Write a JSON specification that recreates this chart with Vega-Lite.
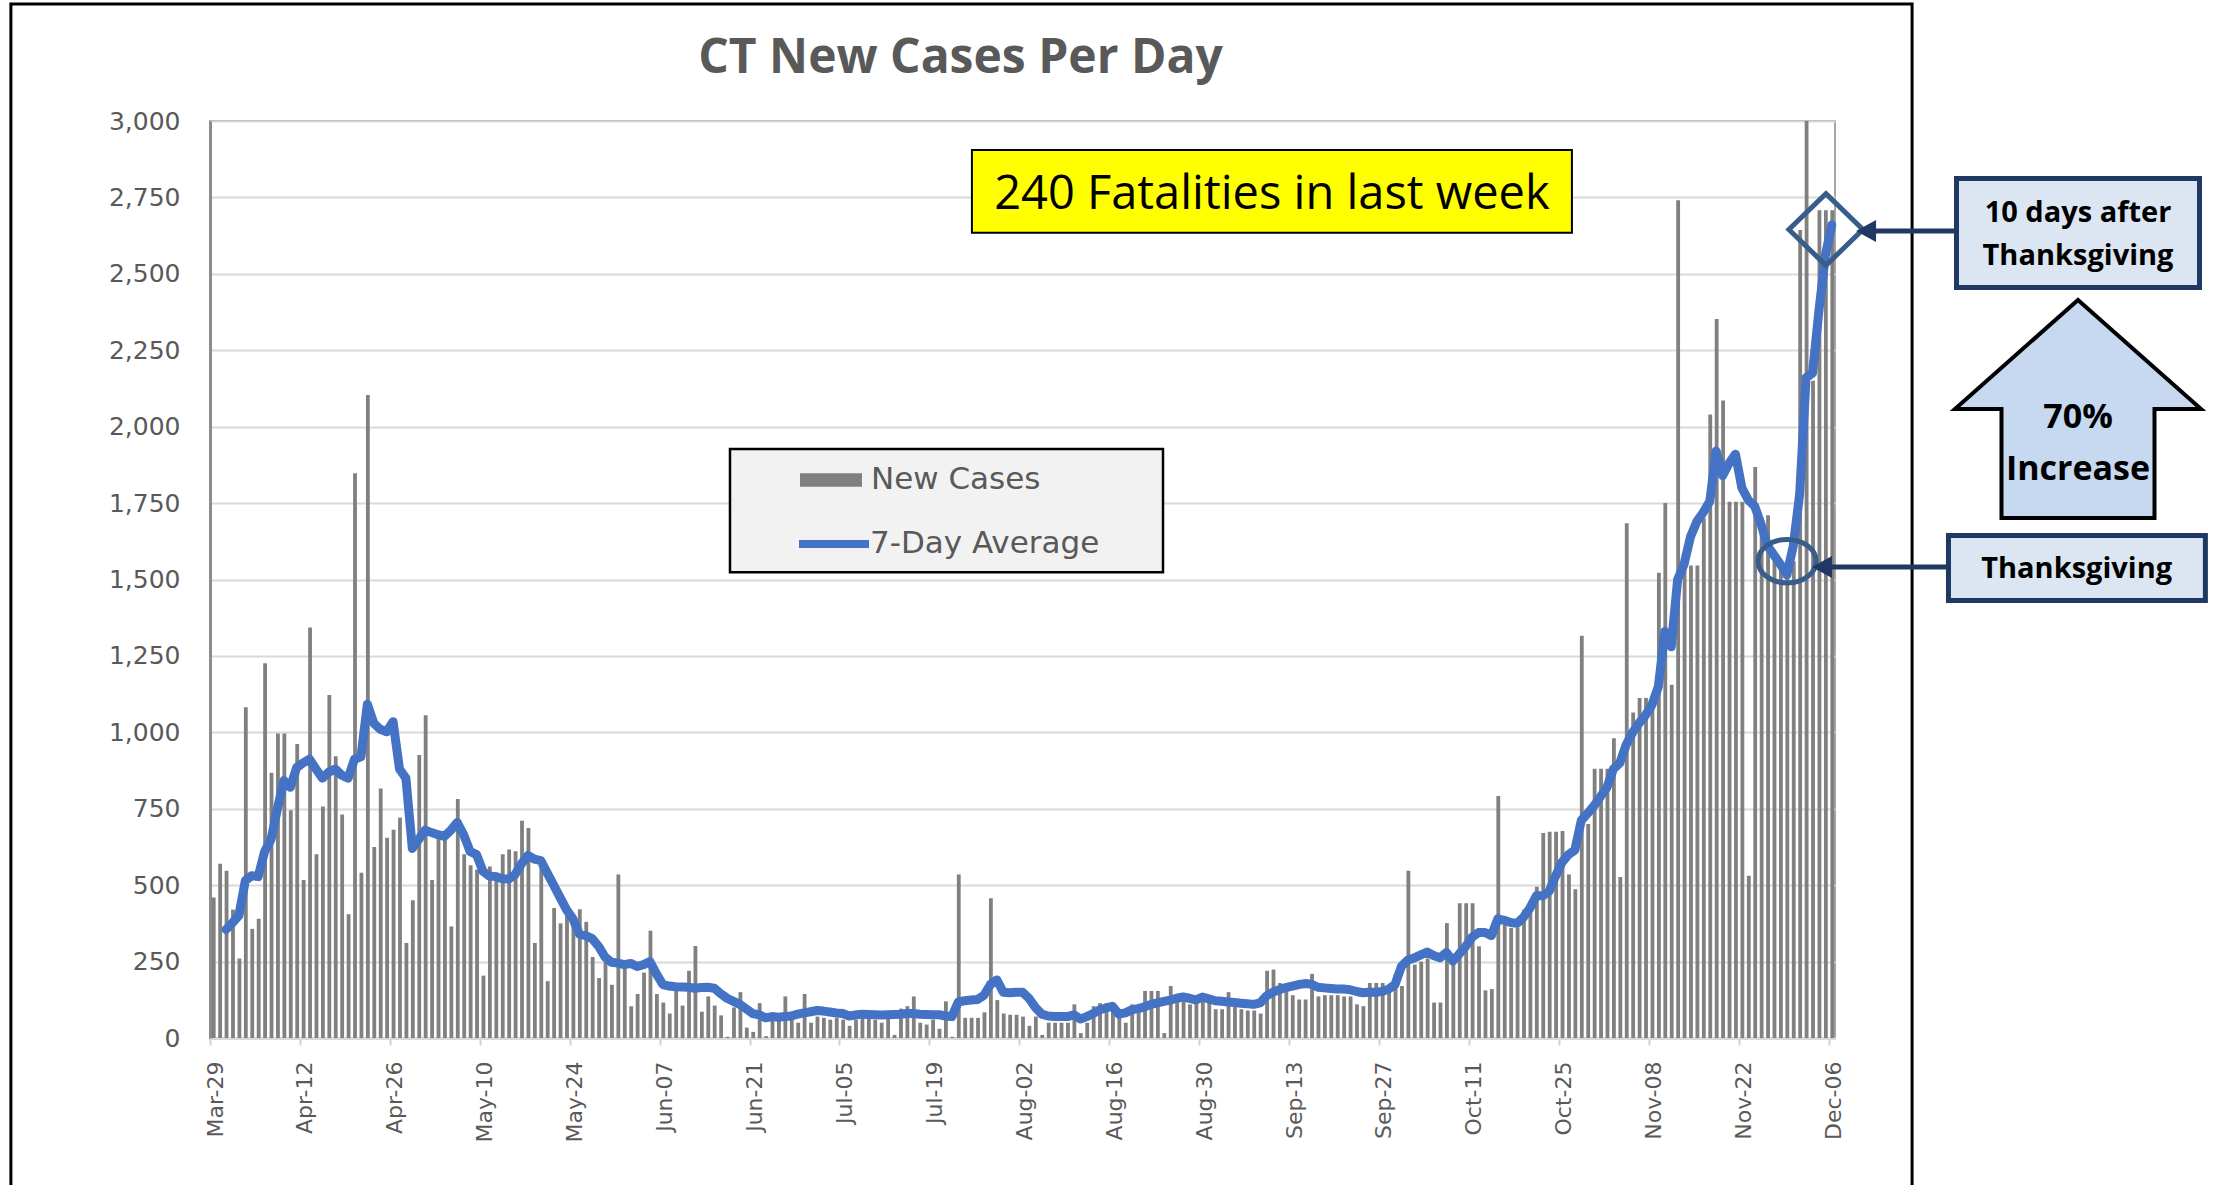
{
"$schema":"https://vega.github.io/schema/vega-lite/v6.json",
"width":1625,"height":917,
"autosize":{"type":"none"},
"padding":{"left":210,"top":121,"right":380,"bottom":147},
"background":"white",
"title":{"text":"CT New Cases Per Day","font":"Open Sans","fontSize":48,"fontWeight":"bold","color":"#595959","anchor":"middle","frame":"group","baseline":"alphabetic","offset":0,"dy":119,"dx":-62},
"config":{"view":{"stroke":"#a6a6a6","strokeWidth":2}},
"datasets":{"ct":[
{"date":"2020-03-29","cases":460},{"date":"2020-03-30","cases":570},{"date":"2020-03-31","cases":547,"avg":355},
{"date":"2020-04-01","cases":420,"avg":377},{"date":"2020-04-02","cases":260,"avg":401},{"date":"2020-04-03","cases":1082,"avg":515},{"date":"2020-04-04","cases":357,"avg":531},{"date":"2020-04-05","cases":390,"avg":528},{"date":"2020-04-06","cases":1226,"avg":610},{"date":"2020-04-07","cases":868,"avg":650},{"date":"2020-04-08","cases":996,"avg":750},{"date":"2020-04-09","cases":996,"avg":842},{"date":"2020-04-10","cases":745,"avg":820},{"date":"2020-04-11","cases":962,"avg":885},{"date":"2020-04-12","cases":517,"avg":900},{"date":"2020-04-13","cases":1343,"avg":912},{"date":"2020-04-14","cases":601,"avg":880},{"date":"2020-04-15","cases":757,"avg":850},{"date":"2020-04-16","cases":1122,"avg":870},{"date":"2020-04-17","cases":922,"avg":880},{"date":"2020-04-18","cases":731,"avg":860},{"date":"2020-04-19","cases":405,"avg":850},{"date":"2020-04-20","cases":1848,"avg":912},{"date":"2020-04-21","cases":541,"avg":920},{"date":"2020-04-22","cases":2104,"avg":1092},{"date":"2020-04-23","cases":625,"avg":1030},{"date":"2020-04-24","cases":816,"avg":1010},{"date":"2020-04-25","cases":655,"avg":1002},{"date":"2020-04-26","cases":681,"avg":1035},{"date":"2020-04-27","cases":721,"avg":880},{"date":"2020-04-28","cases":311,"avg":850},{"date":"2020-04-29","cases":451,"avg":620},{"date":"2020-04-30","cases":926,"avg":650},
{"date":"2020-05-01","cases":1056,"avg":680},{"date":"2020-05-02","cases":517,"avg":672},{"date":"2020-05-03","cases":661,"avg":665},{"date":"2020-05-04","cases":651,"avg":660},{"date":"2020-05-05","cases":365,"avg":680},{"date":"2020-05-06","cases":782,"avg":705},{"date":"2020-05-07","cases":601,"avg":665},{"date":"2020-05-08","cases":565,"avg":610},{"date":"2020-05-09","cases":551,"avg":600},{"date":"2020-05-10","cases":204,"avg":545},{"date":"2020-05-11","cases":561,"avg":530},{"date":"2020-05-12","cases":530,"avg":528},{"date":"2020-05-13","cases":601,"avg":521},{"date":"2020-05-14","cases":617,"avg":520},{"date":"2020-05-15","cases":611,"avg":535},{"date":"2020-05-16","cases":711,"avg":570},{"date":"2020-05-17","cases":687,"avg":597},{"date":"2020-05-18","cases":311,"avg":585},{"date":"2020-05-19","cases":561,"avg":580},{"date":"2020-05-20","cases":186,"avg":540},{"date":"2020-05-21","cases":425,"avg":500},{"date":"2020-05-22","cases":375,"avg":460},{"date":"2020-05-23","cases":401,"avg":420},{"date":"2020-05-24","cases":381,"avg":390},{"date":"2020-05-25","cases":421,"avg":340},{"date":"2020-05-26","cases":380,"avg":335},{"date":"2020-05-27","cases":265,"avg":325},{"date":"2020-05-28","cases":196,"avg":300},{"date":"2020-05-29","cases":250,"avg":265},{"date":"2020-05-30","cases":174,"avg":248},{"date":"2020-05-31","cases":535,"avg":245},
{"date":"2020-06-01","cases":230,"avg":240},{"date":"2020-06-02","cases":104,"avg":244},{"date":"2020-06-03","cases":144,"avg":234},{"date":"2020-06-04","cases":214,"avg":240},{"date":"2020-06-05","cases":351,"avg":250},{"date":"2020-06-06","cases":144,"avg":210},{"date":"2020-06-07","cases":116,"avg":175},{"date":"2020-06-08","cases":80,"avg":170},{"date":"2020-06-09","cases":160,"avg":168},{"date":"2020-06-10","cases":106,"avg":167},{"date":"2020-06-11","cases":220,"avg":166},{"date":"2020-06-12","cases":301,"avg":163},{"date":"2020-06-13","cases":86,"avg":165},{"date":"2020-06-14","cases":136,"avg":166},{"date":"2020-06-15","cases":106,"avg":163},{"date":"2020-06-16","cases":74,"avg":145},{"date":"2020-06-17","cases":4,"avg":130},{"date":"2020-06-18","cases":100,"avg":120},{"date":"2020-06-19","cases":150,"avg":110},{"date":"2020-06-20","cases":34,"avg":95},{"date":"2020-06-21","cases":20,"avg":80},{"date":"2020-06-22","cases":114,"avg":76},{"date":"2020-06-23","cases":6,"avg":66},{"date":"2020-06-24","cases":70,"avg":70},{"date":"2020-06-25","cases":70,"avg":68},{"date":"2020-06-26","cases":136,"avg":70},{"date":"2020-06-27","cases":86,"avg":72},{"date":"2020-06-28","cases":50,"avg":78},{"date":"2020-06-29","cases":144,"avg":82},{"date":"2020-06-30","cases":50,"avg":86},
{"date":"2020-07-01","cases":70,"avg":90},{"date":"2020-07-02","cases":66,"avg":88},{"date":"2020-07-03","cases":60,"avg":85},{"date":"2020-07-04","cases":66,"avg":82},{"date":"2020-07-05","cases":60,"avg":80},{"date":"2020-07-06","cases":40,"avg":72},{"date":"2020-07-07","cases":60,"avg":75},{"date":"2020-07-08","cases":86,"avg":78},{"date":"2020-07-09","cases":66,"avg":77},{"date":"2020-07-10","cases":60,"avg":76},{"date":"2020-07-11","cases":50,"avg":75},{"date":"2020-07-12","cases":66,"avg":76},{"date":"2020-07-13","cases":10,"avg":77},{"date":"2020-07-14","cases":96,"avg":78},{"date":"2020-07-15","cases":104,"avg":80},{"date":"2020-07-16","cases":136,"avg":80},{"date":"2020-07-17","cases":50,"avg":78},{"date":"2020-07-18","cases":44,"avg":77},{"date":"2020-07-19","cases":60,"avg":76},{"date":"2020-07-20","cases":30,"avg":76},{"date":"2020-07-21","cases":120,"avg":72},{"date":"2020-07-22","cases":4,"avg":70},{"date":"2020-07-23","cases":535,"avg":118},{"date":"2020-07-24","cases":66,"avg":122},{"date":"2020-07-25","cases":66,"avg":124},{"date":"2020-07-26","cases":66,"avg":126},{"date":"2020-07-27","cases":84,"avg":140},{"date":"2020-07-28","cases":457,"avg":175},{"date":"2020-07-29","cases":124,"avg":190},{"date":"2020-07-30","cases":80,"avg":150},{"date":"2020-07-31","cases":76,"avg":148},
{"date":"2020-08-01","cases":76,"avg":150},{"date":"2020-08-02","cases":70,"avg":150},{"date":"2020-08-03","cases":40,"avg":130},{"date":"2020-08-04","cases":70,"avg":100},{"date":"2020-08-05","cases":10,"avg":78},{"date":"2020-08-06","cases":50,"avg":72},{"date":"2020-08-07","cases":50,"avg":70},{"date":"2020-08-08","cases":50,"avg":70},{"date":"2020-08-09","cases":50,"avg":70},{"date":"2020-08-10","cases":110,"avg":76},{"date":"2020-08-11","cases":16,"avg":62},{"date":"2020-08-12","cases":50,"avg":70},{"date":"2020-08-13","cases":104,"avg":80},{"date":"2020-08-14","cases":114,"avg":92},{"date":"2020-08-15","cases":114,"avg":98},{"date":"2020-08-16","cases":110,"avg":104},{"date":"2020-08-17","cases":86,"avg":78},{"date":"2020-08-18","cases":50,"avg":82},{"date":"2020-08-19","cases":110,"avg":92},{"date":"2020-08-20","cases":100,"avg":96},{"date":"2020-08-21","cases":154,"avg":102},{"date":"2020-08-22","cases":154,"avg":110},{"date":"2020-08-23","cases":154,"avg":115},{"date":"2020-08-24","cases":16,"avg":120},{"date":"2020-08-25","cases":170,"avg":124},{"date":"2020-08-26","cases":120,"avg":130},{"date":"2020-08-27","cases":120,"avg":134},{"date":"2020-08-28","cases":110,"avg":130},{"date":"2020-08-29","cases":120,"avg":125},{"date":"2020-08-30","cases":120,"avg":134},{"date":"2020-08-31","cases":126,"avg":128},
{"date":"2020-09-01","cases":94,"avg":122},{"date":"2020-09-02","cases":94,"avg":120},{"date":"2020-09-03","cases":150,"avg":118},{"date":"2020-09-04","cases":120,"avg":116},{"date":"2020-09-05","cases":94,"avg":114},{"date":"2020-09-06","cases":90,"avg":112},{"date":"2020-09-07","cases":90,"avg":110},{"date":"2020-09-08","cases":80,"avg":115},{"date":"2020-09-09","cases":220,"avg":138},{"date":"2020-09-10","cases":224,"avg":150},{"date":"2020-09-11","cases":180,"avg":158},{"date":"2020-09-12","cases":176,"avg":165},{"date":"2020-09-13","cases":140,"avg":170},{"date":"2020-09-14","cases":126,"avg":175},{"date":"2020-09-15","cases":126,"avg":178},{"date":"2020-09-16","cases":210,"avg":176},{"date":"2020-09-17","cases":136,"avg":166},{"date":"2020-09-18","cases":140,"avg":164},{"date":"2020-09-19","cases":140,"avg":162},{"date":"2020-09-20","cases":140,"avg":160},{"date":"2020-09-21","cases":136,"avg":160},{"date":"2020-09-22","cases":136,"avg":158},{"date":"2020-09-23","cases":110,"avg":152},{"date":"2020-09-24","cases":104,"avg":148},{"date":"2020-09-25","cases":180,"avg":150},{"date":"2020-09-26","cases":180,"avg":150},{"date":"2020-09-27","cases":180,"avg":152},{"date":"2020-09-28","cases":160,"avg":160},{"date":"2020-09-29","cases":210,"avg":175},{"date":"2020-09-30","cases":170,"avg":235},
{"date":"2020-10-01","cases":547,"avg":255},{"date":"2020-10-02","cases":240,"avg":262},{"date":"2020-10-03","cases":250,"avg":272},{"date":"2020-10-04","cases":260,"avg":281},{"date":"2020-10-05","cases":116,"avg":270},{"date":"2020-10-06","cases":116,"avg":262},{"date":"2020-10-07","cases":376,"avg":280},{"date":"2020-10-08","cases":270,"avg":252},{"date":"2020-10-09","cases":441,"avg":275},{"date":"2020-10-10","cases":441,"avg":300},{"date":"2020-10-11","cases":441,"avg":330},{"date":"2020-10-12","cases":300,"avg":345},{"date":"2020-10-13","cases":156,"avg":345},{"date":"2020-10-14","cases":160,"avg":335},{"date":"2020-10-15","cases":792,"avg":390},{"date":"2020-10-16","cases":370,"avg":385},{"date":"2020-10-17","cases":360,"avg":378},{"date":"2020-10-18","cases":360,"avg":375},{"date":"2020-10-19","cases":420,"avg":395},{"date":"2020-10-20","cases":450,"avg":425},{"date":"2020-10-21","cases":495,"avg":465},{"date":"2020-10-22","cases":671,"avg":465},{"date":"2020-10-23","cases":675,"avg":480},{"date":"2020-10-24","cases":675,"avg":530},{"date":"2020-10-25","cases":677,"avg":575},{"date":"2020-10-26","cases":535,"avg":600},{"date":"2020-10-27","cases":487,"avg":615},{"date":"2020-10-28","cases":1316,"avg":712},{"date":"2020-10-29","cases":700,"avg":735},{"date":"2020-10-30","cases":881,"avg":760},{"date":"2020-10-31","cases":881,"avg":790},
{"date":"2020-11-01","cases":881,"avg":820},{"date":"2020-11-02","cases":981,"avg":880},{"date":"2020-11-03","cases":527,"avg":900},{"date":"2020-11-04","cases":1684,"avg":960},{"date":"2020-11-05","cases":1065,"avg":1000},{"date":"2020-11-06","cases":1112,"avg":1030},{"date":"2020-11-07","cases":1112,"avg":1056},{"date":"2020-11-08","cases":1090,"avg":1090},{"date":"2020-11-09","cases":1522,"avg":1150},{"date":"2020-11-10","cases":1750,"avg":1330},{"date":"2020-11-11","cases":1156,"avg":1280},{"date":"2020-11-12","cases":2741,"avg":1500},{"date":"2020-11-13","cases":1540,"avg":1550},{"date":"2020-11-14","cases":1546,"avg":1640},{"date":"2020-11-15","cases":1546,"avg":1690},{"date":"2020-11-16","cases":1700,"avg":1720},{"date":"2020-11-17","cases":2040,"avg":1756},{"date":"2020-11-18","cases":2352,"avg":1920},{"date":"2020-11-19","cases":2086,"avg":1840},{"date":"2020-11-20","cases":1754,"avg":1880},{"date":"2020-11-21","cases":1754,"avg":1910},{"date":"2020-11-22","cases":1754,"avg":1800},{"date":"2020-11-23","cases":531,"avg":1760},{"date":"2020-11-24","cases":1868,"avg":1740},{"date":"2020-11-25","cases":1700,"avg":1680},{"date":"2020-11-26","cases":1710,"avg":1610},{"date":"2020-11-27","cases":1560,"avg":1580},{"date":"2020-11-28","cases":1560,"avg":1550},{"date":"2020-11-29","cases":1560,"avg":1515},{"date":"2020-11-30","cases":1560,"avg":1610},
{"date":"2020-12-01","cases":2643,"avg":1780},{"date":"2020-12-02","cases":3000,"avg":2160},{"date":"2020-12-03","cases":2150,"avg":2175},{"date":"2020-12-04","cases":2708,"avg":2380},{"date":"2020-12-05","cases":2708,"avg":2560},{"date":"2020-12-06","cases":2708,"avg":2660}
]},
"layer":[
{"data":{"name":"ct"},"mark":{"type":"bar","color":"#808080","width":{"band":0.75}},
 "encoding":{
  "x":{"field":"date","timeUnit":"utcyearmonthdate","type":"temporal","title":null,
   "scale":{"type":"utc","domain":[{"year":2020,"month":3,"date":29,"utc":true},{"year":2020,"month":12,"date":7,"utc":true}]},
   "axis":{"title":null,"values":[{"year":2020,"month":3,"date":29,"utc":true},{"year":2020,"month":4,"date":12,"utc":true},{"year":2020,"month":4,"date":26,"utc":true},{"year":2020,"month":5,"date":10,"utc":true},{"year":2020,"month":5,"date":24,"utc":true},{"year":2020,"month":6,"date":7,"utc":true},{"year":2020,"month":6,"date":21,"utc":true},{"year":2020,"month":7,"date":5,"utc":true},{"year":2020,"month":7,"date":19,"utc":true},{"year":2020,"month":8,"date":2,"utc":true},{"year":2020,"month":8,"date":16,"utc":true},{"year":2020,"month":8,"date":30,"utc":true},{"year":2020,"month":9,"date":13,"utc":true},{"year":2020,"month":9,"date":27,"utc":true},{"year":2020,"month":10,"date":11,"utc":true},{"year":2020,"month":10,"date":25,"utc":true},{"year":2020,"month":11,"date":8,"utc":true},{"year":2020,"month":11,"date":22,"utc":true},{"year":2020,"month":12,"date":6,"utc":true}],
    "labelExpr":"utcFormat(datum.value, '%b-%d')","labelAngle":270,"labelAlign":"right","labelBaseline":"middle","labelFont":"DejaVu Sans","labelFontSize":22,"labelColor":"#595959","labelPadding":16,"labelOffset":5,"labelFlush":false,"labelOverlap":false,"tickSize":7,"tickColor":"#d0d0d0","tickWidth":2,"domainColor":"#d9d9d9","domainWidth":3,"grid":false}},
  "y":{"field":"cases","type":"quantitative","title":null,"scale":{"domain":[0,3000],"nice":false},
   "axis":{"title":null,"values":[0,250,500,750,1000,1250,1500,1750,2000,2250,2500,2750,3000],"labelExpr":"format(datum.value, ',')","labelFont":"DejaVu Sans","labelFontSize":25,"labelColor":"#595959","labelPadding":30,"ticks":false,"domainColor":"#8c8c8c","domainWidth":3,"gridColor":"#d9d9d9","gridWidth":2}},
  "fill":{"datum":"New Cases","type":"nominal","scale":{"range":["#808080"]},
   "legend":{"orient":"none","legendX":590,"legendY":328,"title":null,"labelFont":"DejaVu Sans","labelFontSize":31,"labelColor":"#595959","labelLimit":400,"symbolType":"M-1,-0.22H1V0.22H-1Z","symbolSize":3844,"symbolStrokeWidth":0,"labelOffset":9,"padding":0}}}},
{"data":{"name":"ct"},"mark":{"type":"line","strokeWidth":9,"strokeCap":"round","strokeJoin":"round"},
 "encoding":{
  "x":{"field":"date","timeUnit":"utcyearmonthdate","type":"temporal","bandPosition":0.5,"title":null},
  "y":{"field":"avg","type":"quantitative","title":null},
  "stroke":{"datum":"7-Day Average","type":"nominal","scale":{"range":["#4472C4"]},
   "legend":{"orient":"none","legendX":585,"legendY":384,"title":null,"labelFont":"DejaVu Sans","labelFontSize":31,"labelColor":"#595959","labelLimit":400,"symbolType":"stroke","symbolSize":4900,"symbolStrokeWidth":8,"labelOffset":-3,"padding":0}}}},
{"data":{"values":[{}]},"mark":{"type":"rect","fill":"white","fillOpacity":0,"stroke":"black","strokeWidth":3},
 "encoding":{"x":{"datum":{"year":2020,"month":2,"date":27,"utc":true},"type":"temporal"},"x2":{"datum":{"year":2020,"month":12,"date":19,"utc":true}},"y":{"datum":3383,"type":"quantitative"},"y2":{"datum":-514}}},
{"data":{"values":[{}]},"mark":{"type":"rect","fill":"#f2f2f2","stroke":"black","strokeWidth":2.5},
 "encoding":{"x":{"datum":{"year":2020,"month":6,"date":17,"hours":23,"utc":true},"type":"temporal"},"x2":{"datum":{"year":2020,"month":8,"date":24,"hours":9,"utc":true}},"y":{"datum":1927,"type":"quantitative"},"y2":{"datum":1524}}},
{"data":{"values":[{}]},"mark":{"type":"rect","fill":"#ffff00","stroke":"black","strokeWidth":2},
 "encoding":{"x":{"datum":{"year":2020,"month":7,"date":25,"hours":15,"utc":true},"type":"temporal"},"x2":{"datum":{"year":2020,"month":10,"date":27,"hours":1,"utc":true}},"y":{"datum":2905,"type":"quantitative"},"y2":{"datum":2634}}},
{"data":{"values":[{}]},"mark":{"type":"text","text":"240 Fatalities in last week","font":"Open Sans","fontSize":47,"color":"black","align":"center","baseline":"alphabetic"},
 "encoding":{"x":{"datum":{"year":2020,"month":9,"date":10,"hours":8,"utc":true},"type":"temporal"},"y":{"datum":2712,"type":"quantitative"}}},
{"data":{"values":[{}]},"mark":{"type":"point","shape":"M-1,0A1,0.75 0 1,0 1,0A1,0.75 0 1,0 -1,0Z","filled":false,"stroke":"#385D8A","strokeWidth":5,"size":3364,"opacity":1},
 "encoding":{"x":{"datum":{"year":2020,"month":11,"date":29,"hours":13,"utc":true},"type":"temporal"},"y":{"datum":1560,"type":"quantitative"}}},
{"data":{"values":[{}]},"mark":{"type":"point","shape":"M0,-0.97L1,0L0,0.97L-1,0Z","filled":false,"stroke":"#385D8A","strokeWidth":5,"size":5476,"opacity":1},
 "encoding":{"x":{"datum":{"year":2020,"month":12,"date":5,"hours":14,"utc":true},"type":"temporal"},"y":{"datum":2645,"type":"quantitative"}}},
{"data":{"values":[{}]},"mark":{"type":"rule","stroke":"#1F3864","strokeWidth":5},
 "encoding":{"x":{"datum":{"year":2020,"month":12,"date":12,"hours":3,"utc":true},"type":"temporal"},"x2":{"datum":{"year":2020,"month":12,"date":25,"hours":13,"utc":true}},"y":{"datum":2640,"type":"quantitative"}}},
{"data":{"values":[{}]},"mark":{"type":"rule","stroke":"#1F3864","strokeWidth":5},
 "encoding":{"x":{"datum":{"year":2020,"month":12,"date":4,"hours":23,"minutes":30,"utc":true},"type":"temporal"},"x2":{"datum":{"year":2020,"month":12,"date":24,"hours":7,"utc":true}},"y":{"datum":1541,"type":"quantitative"}}},
{"data":{"values":[{}]},"mark":{"type":"point","shape":"M-1,0L1,-1.1L1,1.1Z","filled":true,"fill":"#1F3864","strokeWidth":0,"size":400,"opacity":1},
 "encoding":{"x":{"datum":{"year":2020,"month":12,"date":11,"hours":20,"utc":true},"type":"temporal"},"y":{"datum":2640,"type":"quantitative"}}},
{"data":{"values":[{}]},"mark":{"type":"point","shape":"M-1,0L1,-1.1L1,1.1Z","filled":true,"fill":"#1F3864","strokeWidth":0,"size":400,"opacity":1},
 "encoding":{"x":{"datum":{"year":2020,"month":12,"date":4,"hours":23,"minutes":30,"utc":true},"type":"temporal"},"y":{"datum":1541,"type":"quantitative"}}},
{"data":{"values":[{}]},"mark":{"type":"rect","fill":"#DCE6F2","stroke":"#1F3864","strokeWidth":5},
 "encoding":{"x":{"datum":{"year":2020,"month":12,"date":25,"hours":22,"utc":true},"type":"temporal"},"x2":{"datum":{"year":2021,"month":2,"date":1,"hours":18,"utc":true}},"y":{"datum":2812,"type":"quantitative"},"y2":{"datum":2455}}},
{"data":{"values":[{}]},"mark":{"type":"rect","fill":"#DCE6F2","stroke":"#1F3864","strokeWidth":5},
 "encoding":{"x":{"datum":{"year":2020,"month":12,"date":24,"hours":16,"utc":true},"type":"temporal"},"x2":{"datum":{"year":2021,"month":2,"date":2,"hours":16,"utc":true}},"y":{"datum":1644,"type":"quantitative"},"y2":{"datum":1431}}},
{"data":{"values":[{}]},"mark":{"type":"point","shape":"M0,-0.886L1,0L0.622,0L0.622,0.886L-0.622,0.886L-0.622,0L-1,0Z","filled":true,"fill":"#C6D9F1","stroke":"black","strokeWidth":4,"size":60516,"opacity":1},
 "encoding":{"x":{"datum":{"year":2021,"month":1,"date":13,"hours":20,"utc":true},"type":"temporal"},"y":{"datum":2058,"type":"quantitative"}}},
{"data":{"values":[{}]},"mark":{"type":"text","text":["10 days after","Thanksgiving"],"lineHeight":43,"font":"Open Sans","fontSize":29,"fontWeight":"bold","color":"black","align":"center","baseline":"alphabetic"},
 "encoding":{"x":{"datum":{"year":2021,"month":1,"date":13,"hours":20,"utc":true},"type":"temporal"},"y":{"datum":2670,"type":"quantitative"}}},
{"data":{"values":[{}]},"mark":{"type":"text","text":["70%","Increase"],"lineHeight":52,"font":"Open Sans","fontSize":34,"fontWeight":"bold","color":"black","align":"center","baseline":"alphabetic"},
 "encoding":{"x":{"datum":{"year":2021,"month":1,"date":13,"hours":20,"utc":true},"type":"temporal"},"y":{"datum":1996,"type":"quantitative"}}},
{"data":{"values":[{}]},"mark":{"type":"text","text":"Thanksgiving","font":"Open Sans","fontSize":29,"fontWeight":"bold","color":"black","align":"center","baseline":"alphabetic"},
 "encoding":{"x":{"datum":{"year":2021,"month":1,"date":13,"hours":15,"utc":true},"type":"temporal"},"y":{"datum":1505,"type":"quantitative"}}}
]
}
